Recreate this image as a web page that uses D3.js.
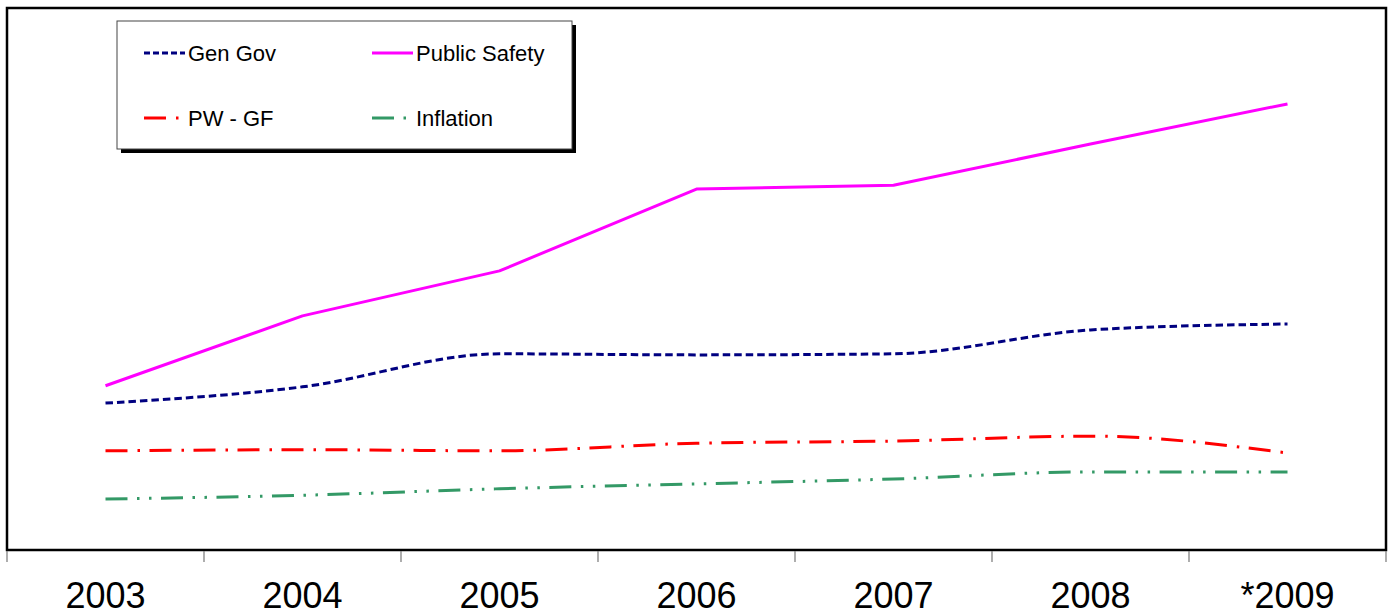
<!DOCTYPE html>
<html>
<head>
<meta charset="utf-8">
<script src="https://cdn.jsdelivr.net/npm/d3@7"></script>
<style>
  html, body { margin: 0; padding: 0; background: #fff; }
  svg { display: block; }
  text { font-family: "Liberation Sans", Arial, sans-serif; }
</style>
</head>
<body>
<svg id="chart" width="1388" height="616"></svg>
<script>
// ---- data ----
const categories = ["2003", "2004", "2005", "2006", "2007", "2008", "*2009"];
const genGov       = [27.1, 30.1, 36.2, 36.0, 36.2, 40.6, 41.7];
const publicSafety = [30.3, 43.2, 51.5, 66.6, 67.3, 74.9, 82.3];
const pwGF         = [18.3, 18.5, 18.3, 19.7, 20.1, 21.0, 17.9];
const inflation    = [9.4, 10.1, 11.3, 12.2, 13.1, 14.4, 14.4];
const seriesNames  = ["Gen Gov", "Public Safety", "PW - GF", "Inflation"];

// ---- layout ----
const W = 1388, H = 616;
const plot = { left: 7, right: 1386, top: 8, bottom: 550 };

const svg = d3.select("#chart");
svg.append("rect").attr("width", W).attr("height", H).attr("fill", "#fff");

const x = d3.scaleBand().domain(categories).range([plot.left, plot.right]).padding(0);
const y = d3.scaleLinear().domain([0, 100]).range([plot.bottom, plot.top]);

const series = [
  { name: seriesNames[0], values: genGov, color: "#000080", dash: "7.5,4", curve: d3.curveMonotoneX },
  { name: seriesNames[1], values: publicSafety, color: "#FF00FF", dash: null, curve: d3.curveLinear },
  { name: seriesNames[2], values: pwGF, color: "#FF0000", dash: "22,10,2.5,9.5", curve: d3.curveMonotoneX },
  { name: seriesNames[3], values: inflation, color: "#339966", dash: "22,9.5,2.5,9.5,2.5,9.5", curve: d3.curveMonotoneX }
];

// ---- lines ----
const cx = c => x(c) + x.bandwidth() / 2;
series.forEach(s => {
  const line = d3.line()
    .x((d, i) => cx(categories[i]))
    .y(d => y(d))
    .curve(s.curve);
  svg.append("path")
    .datum(s.values)
    .attr("d", line)
    .attr("fill", "none")
    .attr("stroke", s.color)
    .attr("stroke-width", 3)
    .attr("stroke-dasharray", s.dash)
    .attr("stroke-linejoin", "round");
});

// ---- plot frame ----
svg.append("rect")
  .attr("x", plot.left).attr("y", plot.top)
  .attr("width", plot.right - plot.left).attr("height", plot.bottom - plot.top)
  .attr("fill", "none").attr("stroke", "#000").attr("stroke-width", 2.5);

// ---- x axis ----
const tickPos = categories.map(c => x(c)).concat([plot.right]);
svg.append("g").selectAll("line").data(tickPos).join("line")
  .attr("x1", d => d).attr("x2", d => d)
  .attr("y1", plot.bottom + 1).attr("y2", plot.bottom + 12)
  .attr("stroke", "#777").attr("stroke-width", 1.2);

svg.append("g").selectAll("text").data(categories).join("text")
  .attr("x", d => cx(d))
  .attr("y", 608)
  .attr("text-anchor", "middle")
  .attr("font-size", 36)
  .attr("fill", "#000")
  .text(d => d);

// ---- legend ----
const lg = svg.append("g");
lg.append("rect").attr("x", 121).attr("y", 25).attr("width", 455).attr("height", 128).attr("fill", "#000");
lg.append("rect").attr("x", 117).attr("y", 21).attr("width", 455).attr("height", 128)
  .attr("fill", "#fff").attr("stroke", "#444").attr("stroke-width", 1);

const legendPos = [
  { lx: 144, ly: 53 },
  { lx: 372, ly: 53 },
  { lx: 144, ly: 118 },
  { lx: 372, ly: 118 }
];
series.forEach((s, i) => {
  const p = legendPos[i];
  lg.append("line")
    .attr("x1", p.lx).attr("x2", p.lx + 41)
    .attr("y1", p.ly).attr("y2", p.ly)
    .attr("stroke", s.color).attr("stroke-width", 3)
    .attr("stroke-dasharray", i === 0 ? "6,3" : s.dash);
  lg.append("text")
    .attr("x", p.lx + 44).attr("y", p.ly + 8)
    .attr("font-size", 22)
    .attr("fill", "#000")
    .text(s.name);
});
</script>
</body>
</html>
